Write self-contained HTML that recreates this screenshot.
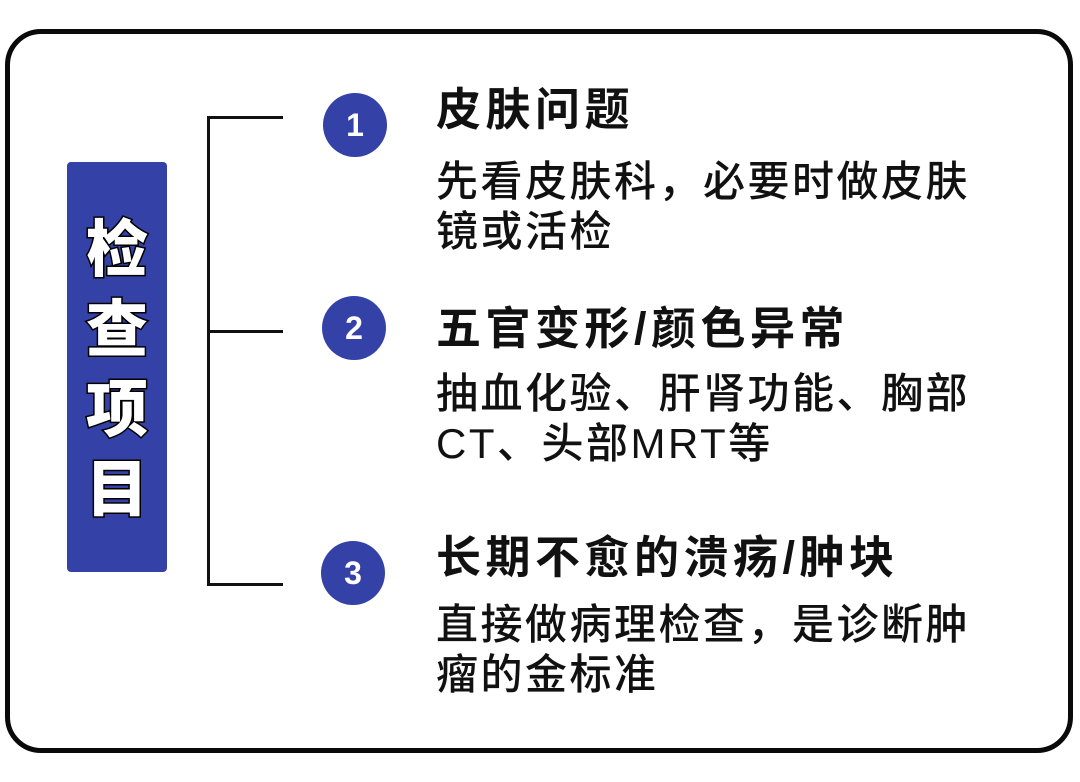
<!DOCTYPE html>
<html><head><meta charset="utf-8"><style>
body{margin:0;width:1080px;height:782px;background:#fff;position:relative;overflow:hidden;font-family:"Liberation Sans","Noto Sans CJK SC",sans-serif;}
.box{position:absolute;left:5px;top:29px;width:1058px;height:714px;border:5px solid #0a0a0a;border-radius:36px;}
.side{position:absolute;left:67px;top:162px;width:100px;height:410px;background:#3442a8;border-radius:4px;}
.vt{position:absolute;left:67px;width:100px;text-align:center;color:#fff;font-size:62px;font-weight:900;-webkit-text-stroke:3px #000;paint-order:stroke fill;line-height:1;}
.c{position:absolute;width:64px;height:64px;border-radius:50%;background:#3442a8;color:#fff;font-size:32px;font-weight:bold;text-align:center;line-height:64px;}
.t{position:absolute;left:436px;font-size:45px;font-weight:bold;color:#111;line-height:1;letter-spacing:4.5px;white-space:nowrap;}
.b{position:absolute;left:436px;font-size:42px;color:#111;line-height:50px;letter-spacing:2.5px;white-space:nowrap;font-weight:500;}
.l{position:absolute;background:#111;}
</style></head><body>
<div class="box"></div>
<div class="side"></div>
<div class="vt" style="top:220px">检</div>
<div class="vt" style="top:300px">查</div>
<div class="vt" style="top:380px">项</div>
<div class="vt" style="top:460px">目</div>
<div class="l" style="left:207px;top:116px;width:3px;height:470px"></div>
<div class="l" style="left:207px;top:116px;width:76px;height:3px"></div>
<div class="l" style="left:207px;top:330px;width:76px;height:3px"></div>
<div class="l" style="left:207px;top:583px;width:76px;height:3px"></div>
<div class="c" style="left:323px;top:93px">1</div>
<div class="c" style="left:322px;top:296px">2</div>
<div class="c" style="left:321px;top:541px">3</div>
<div class="t" style="top:87px">皮肤问题</div>
<div class="b" style="top:157px">先看皮肤科，必要时做皮肤<br>镜或活检</div>
<div class="t" style="top:306px">五官变形/颜色异常</div>
<div class="b" style="top:369px">抽血化验、肝肾功能、胸部<br>CT、头部MRT等</div>
<div class="t" style="top:535px">长期不愈的溃疡/肿块</div>
<div class="b" style="top:600px">直接做病理检查，是诊断肿<br>瘤的金标准</div>
</body></html>
